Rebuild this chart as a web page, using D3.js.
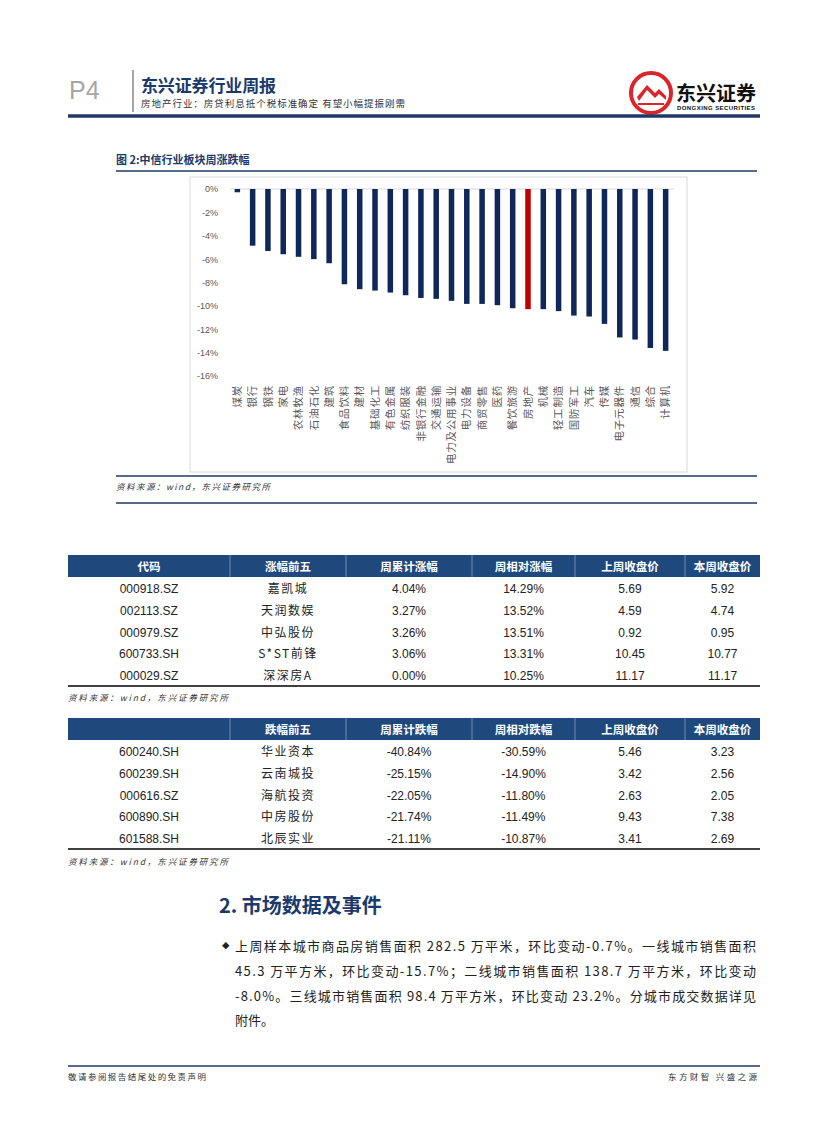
<!DOCTYPE html>
<html>
<head>
<meta charset="utf-8">
<script src="https://d3js.org/d3.v7.min.js"></script>
<style>
  body { margin: 0; background: #fff; }
  svg { display: block; }
  text { font-family: "Liberation Sans", Arial, "Noto Sans CJK SC", sans-serif; }
  .cjk { font-family: "Noto Sans CJK SC", sans-serif; }
</style>
</head>
<body>
<div id="page"></div>
<script>
// chart data: 中信行业板块周涨跌幅 (%)
const industries = ['煤炭', '银行', '钢铁', '家电', '农林牧渔', '石油石化', '建筑', '食品饮料', '建材', '基础化工',
  '有色金属', '纺织服装', '非银行金融', '交通运输', '电力及公用事业', '电力设备', '商贸零售', '医药', '餐饮旅游', '房地产',
  '机械', '轻工制造', '国防军工', '汽车', '传媒', '电子元器件', '通信', '综合', '计算机'];
const weeklyChange = [-0.28, -4.85, -5.3, -5.58, -5.8, -6.0, -6.35, -8.15, -8.57, -8.69,
  -8.86, -9.09, -9.32, -9.4, -9.57, -9.83, -9.83, -9.94, -10.2, -10.28,
  -10.28, -10.45, -10.83, -10.91, -11.54, -12.7, -12.88, -13.6, -13.85];
const yTicks = [0, -2, -4, -6, -8, -10, -12, -14, -16];
const highlight = '房地产';

// 涨幅前五
const upCodes = ['000918.SZ', '002113.SZ', '000979.SZ', '600733.SH', '000029.SZ'];
const upNames = ['嘉凯城', '天润数娱', '中弘股份', 'S*ST前锋', '深深房A'];
const upCum = ['4.04%', '3.27%', '3.26%', '3.06%', '0.00%'];
const upRel = ['14.29%', '13.52%', '13.51%', '13.31%', '10.25%'];
const upPrev = ['5.69', '4.59', '0.92', '10.45', '11.17'];
const upCur = ['5.92', '4.74', '0.95', '10.77', '11.17'];
const upHeader = ['代码', '涨幅前五', '周累计涨幅', '周相对涨幅', '上周收盘价', '本周收盘价'];

// 跌幅前五
const downCodes = ['600240.SH', '600239.SH', '000616.SZ', '600890.SH', '601588.SH'];
const downNames = ['华业资本', '云南城投', '海航投资', '中房股份', '北辰实业'];
const downCum = ['-40.84%', '-25.15%', '-22.05%', '-21.74%', '-21.11%'];
const downRel = ['-30.59%', '-14.90%', '-11.80%', '-11.49%', '-10.87%'];
const downPrev = ['5.46', '3.42', '2.63', '9.43', '3.41'];
const downCur = ['3.23', '2.56', '2.05', '7.38', '2.69'];
const downHeader = ['', '跌幅前五', '周累计跌幅', '周相对跌幅', '上周收盘价', '本周收盘价'];

const navy = '#1b3a6b', rule = '#1f3864';

const svg = d3.select('#page').append('svg').attr('width', 827).attr('height', 1122);

// ---- page header ----
svg.append('text').attr('x', 69).attr('y', 99).attr('font-size', 25).attr('fill', '#a6a6a6').text('P4');
svg.append('line').attr('x1', 133).attr('x2', 133).attr('y1', 70).attr('y2', 112)
  .attr('stroke', '#a6a6a6').attr('stroke-width', 2);
svg.append('text').attr('class', 'cjk').attr('x', 141).attr('y', 92).attr('font-size', 17)
  .attr('font-weight', 'bold').attr('fill', navy).attr('textLength', 135).text('东兴证券行业周报');
svg.append('text').attr('class', 'cjk').attr('x', 141).attr('y', 107).attr('font-size', 9.5)
  .attr('fill', '#333').attr('textLength', 264).text('房地产行业：房贷利息抵个税标准确定 有望小幅提振刚需');

// logo
const logo = svg.append('g').attr('transform', 'translate(651,93)');
logo.append('circle').attr('r', 20).attr('fill', 'none').attr('stroke', '#d9252b').attr('stroke-width', 4);
logo.append('path').attr('d', 'M-14,4 L-4,-8 L4,0 L8,-4 L15,3 L15,7 L8,1 L4,5 L-4,-3 L-12,8 Z').attr('fill', '#d9252b');
logo.append('path').attr('d', 'M-13,10 L13,10 L13,12 L-13,12 Z').attr('fill', '#d9252b');
svg.append('text').attr('class', 'cjk').attr('x', 676).attr('y', 101).attr('font-size', 20)
  .attr('font-weight', 'bold').attr('fill', '#111').attr('textLength', 80).text('东兴证券');
svg.append('text').attr('x', 677).attr('y', 110).attr('font-size', 6).attr('font-weight', 'bold')
  .attr('fill', '#111').attr('textLength', 78).text('DONGXING SECURITIES');
svg.append('line').attr('x1', 68).attr('x2', 760).attr('y1', 116).attr('y2', 116)
  .attr('stroke', rule).attr('stroke-width', 3.5);

// ---- figure ----
svg.append('text').attr('class', 'cjk').attr('x', 116).attr('y', 164).attr('font-size', 11)
  .attr('font-weight', 'bold').attr('fill', navy).text('图 2:中信行业板块周涨跌幅');
svg.append('line').attr('x1', 116).attr('x2', 757).attr('y1', 171).attr('y2', 171)
  .attr('stroke', rule).attr('stroke-width', 1.5);
svg.append('rect').attr('x', 190).attr('y', 177).attr('width', 497).attr('height', 295)
  .attr('fill', '#fff').attr('stroke', '#d9d9d9');

const x = d3.scaleBand().domain(industries).range([230, 673]).paddingInner(0.64).paddingOuter(0.3);
const y = d3.scaleLinear().domain([-16, 0]).range([376, 189]);

const yAxis = svg.append('g').attr('transform', 'translate(224,0)')
  .call(d3.axisLeft(y).tickValues(yTicks).tickSize(0).tickPadding(6).tickFormat(d => d + '%'));
yAxis.select('.domain').remove();
yAxis.selectAll('text').attr('font-size', 9).attr('fill', '#595959')
  .attr('font-family', '"Liberation Sans", Arial, sans-serif');

svg.append('line').attr('x1', 230).attr('x2', 674).attr('y1', y(0)).attr('y2', y(0))
  .attr('stroke', '#d9d9d9').attr('stroke-width', 1);

svg.append('g').selectAll('rect').data(industries).join('rect')
  .attr('x', d => x(d)).attr('width', x.bandwidth())
  .attr('y', y(0)).attr('height', (d, i) => y(weeklyChange[i]) - y(0))
  .attr('fill', d => d === highlight ? '#c00000' : '#0f2759');

svg.append('g').selectAll('text').data(industries).join('text')
  .attr('class', 'cjk')
  .attr('transform', d => `translate(${x(d) + x.bandwidth() / 2},385) rotate(-90)`)
  .attr('text-anchor', 'end').attr('dy', '0.35em')
  .attr('font-size', 10.5).attr('letter-spacing', 0.8).attr('fill', '#595959')
  .text(d => d);

svg.append('line').attr('x1', 116).attr('x2', 757).attr('y1', 476).attr('y2', 476)
  .attr('stroke', rule).attr('stroke-width', 1.5);
svg.append('text').attr('class', 'cjk').attr('x', 116).attr('y', 490).attr('font-size', 8.5)
  .attr('font-style', 'italic').attr('fill', '#333').attr('textLength', 154).text('资料来源：wind，东兴证券研究所');
svg.append('line').attr('x1', 116).attr('x2', 757).attr('y1', 503).attr('y2', 503)
  .attr('stroke', rule).attr('stroke-width', 1.5);

// ---- tables ----
const colEdges = [68, 230, 346, 472, 575, 685, 760];
function drawTable(top, header, cols, sourceY) {
  const g = svg.append('g');
  g.append('rect').attr('x', 68).attr('y', top).attr('width', 692).attr('height', 22).attr('fill', '#1f497d');
  colEdges.slice(1, -1).forEach(cx => {
    g.append('line').attr('x1', cx).attr('x2', cx).attr('y1', top).attr('y2', top + 22)
      .attr('stroke', '#6f8db3').attr('stroke-width', 1);
  });
  header.forEach((h, i) => {
    g.append('text').attr('class', 'cjk').attr('x', (colEdges[i] + colEdges[i + 1]) / 2).attr('y', top + 15.5)
      .attr('text-anchor', 'middle').attr('font-size', 11.5).attr('font-weight', 'bold').attr('fill', '#fff').text(h);
  });
  const rowY = d3.scalePoint().domain(d3.range(5)).range([top + 34, top + 121]);
  cols.forEach((col, c) => {
    g.selectAll(null).data(col).join('text')
      .attr('class', c === 1 ? 'cjk' : null)
      .attr('x', (colEdges[c] + colEdges[c + 1]) / 2).attr('y', (d, i) => rowY(i) + 4)
      .attr('text-anchor', 'middle').attr('font-size', 12).attr('letter-spacing', c === 1 ? 1.5 : 0)
      .attr('fill', '#222').text(d => d);
  });
  g.append('line').attr('x1', 68).attr('x2', 760).attr('y1', top + 131).attr('y2', top + 131)
    .attr('stroke', '#000').attr('stroke-width', 1.5);
  g.append('text').attr('class', 'cjk').attr('x', 68).attr('y', sourceY).attr('font-size', 8.5)
    .attr('font-style', 'italic').attr('fill', '#333').attr('textLength', 160).text('资料来源：wind，东兴证券研究所');
}
drawTable(555, upHeader, [upCodes, upNames, upCum, upRel, upPrev, upCur], 701);
drawTable(718, downHeader, [downCodes, downNames, downCum, downRel, downPrev, downCur], 865);

// ---- section text ----
svg.append('text').attr('class', 'cjk').attr('x', 219).attr('y', 913).attr('font-size', 20)
  .attr('font-weight', 'bold').attr('fill', navy).text('2. 市场数据及事件');
svg.append('text').attr('x', 222).attr('y', 949).attr('font-size', 7.5).attr('fill', '#222').text('◆');
const para = [
  '上周样本城市商品房销售面积 282.5 万平米，环比变动-0.7%。一线城市销售面积',
  '45.3 万平方米，环比变动-15.7%；二线城市销售面积 138.7 万平方米，环比变动',
  '-8.0%。三线城市销售面积 98.4 万平方米，环比变动 23.2%。分城市成交数据详见',
  '附件。'
];
para.forEach((line, i) => {
  const t = svg.append('text').attr('class', 'cjk').attr('x', 235).attr('y', 951 + i * 24.8)
    .attr('font-size', 13).attr('fill', '#222').text(line);
  if (i < 3) t.attr('textLength', 521).attr('lengthAdjust', 'spacing');
});

// ---- footer ----
svg.append('line').attr('x1', 68).attr('x2', 760).attr('y1', 1066).attr('y2', 1066)
  .attr('stroke', rule).attr('stroke-width', 1.5);
svg.append('text').attr('class', 'cjk').attr('x', 68).attr('y', 1080).attr('font-size', 8.5)
  .attr('fill', '#333').attr('textLength', 138).text('敬请参阅报告结尾处的免责声明');
svg.append('text').attr('class', 'cjk').attr('x', 668).attr('y', 1080).attr('font-size', 8.5)
  .attr('fill', '#333').attr('textLength', 89).text('东方财智 兴盛之源');
</script>
</body>
</html>
